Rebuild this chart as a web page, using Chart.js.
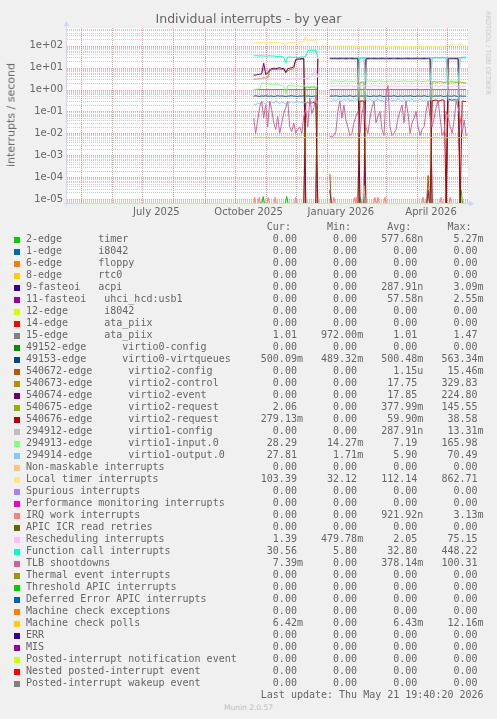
<!DOCTYPE html>
<html>
<head>
<meta charset="utf-8">
<title>Individual interrupts - by year</title>
<script src="https://cdn.jsdelivr.net/npm/chart.js@4.4.1/dist/chart.umd.min.js"></script>
<style>
  html, body { margin: 0; padding: 0; }
  body {
    width: 497px; height: 719px; position: relative; overflow: hidden;
    background: #f0f0f0; color: #666;
    font-family: 'DejaVu Sans', sans-serif;
  }
  #chart { position: absolute; left: 0; top: 0; }
  #title { position: absolute; left: 0; top: 11px; width: 497px; text-align: center; font-size: 12.5px; line-height: 16px; }
  #ylabel { position: absolute; left: 11px; top: 115px; transform: translate(-50%, -50%) rotate(-90deg); font-size: 11px; white-space: nowrap; }
  #watermark { position: absolute; left: 488px; top: 53px; transform: translate(-50%, -50%) rotate(90deg); font-size: 6.5px; color: #c8c8c8; white-space: nowrap; }
  #legend { position: absolute; left: 26px; top: 221px; margin: 0; font: 10px/12px 'DejaVu Sans Mono', monospace; color: #666; }
  .swatch { position: absolute; left: 14px; width: 6px; height: 6px; }
  #munin { position: absolute; left: 0; top: 703px; width: 497px; text-align: center; font-size: 7.5px; color: #c0c0c0; }
</style>
</head>
<body>
<canvas id="chart" width="497" height="230"></canvas>
<div id="title">Individual interrupts - by year</div>
<div id="ylabel">interrupts / second</div>
<div id="watermark">RRDTOOL / TOBI OETIKER</div>
<pre id="legend"></pre>
<div id="munin">Munin 2.0.57</div>

<script>
// ---- axes (x values are day numbers counted from 1 Jan 2025) ----
const xMin = 105.8;   // 16 Apr 2025
const xMax = 505.8;   // 21 May 2026
const monthStarts = [120, 151, 181, 212, 243, 273, 304, 334, 365, 396, 424, 455, 485];
const monthLabels = ['', '', 'July 2025', '', '', 'October 2025', '', '', 'January 2026', '', '', 'April 2026', ''];
const yMin = 6.6e-6;
const yMax = 646;
const decades = [1e-5, 1e-4, 1e-3, 1e-2, 1e-1, 1, 10, 100];
const decadeLabels = ['1e-05', '1e-04', '1e-03', '1e-02', '1e-01', '1e+00', '1e+01', '1e+02'];
const minorSteps = [2, 3, 4, 5, 6, 7, 8, 9];

// ---- legend ----
const legendLabels = [
  '2-edge      timer', '1-edge      i8042', '6-edge      floppy', '8-edge      rtc0',
  '9-fasteoi   acpi', '11-fasteoi   uhci_hcd:usb1', '12-edge      i8042', '14-edge      ata_piix',
  '15-edge      ata_piix', '49152-edge      virtio0-config', '49153-edge      virtio0-virtqueues',
  '540672-edge      virtio2-config', '540673-edge      virtio2-control', '540674-edge      virtio2-event',
  '540675-edge      virtio2-request', '540676-edge      virtio2-request', '294912-edge      virtio1-config',
  '294913-edge      virtio1-input.0', '294914-edge      virtio1-output.0',
  'Non-maskable interrupts', 'Local timer interrupts', 'Spurious interrupts',
  'Performance monitoring interrupts', 'IRQ work interrupts', 'APIC ICR read retries',
  'Rescheduling interrupts', 'Function call interrupts', 'TLB shootdowns',
  'Thermal event interrupts', 'Threshold APIC interrupts', 'Deferred Error APIC interrupts',
  'Machine check exceptions', 'Machine check polls', 'ERR', 'MIS',
  'Posted-interrupt notification event', 'Nested posted-interrupt event', 'Posted-interrupt wakeup event'
];
const seriesColors = [
  '#00CC00', '#0066B3', '#FF8000', '#FFCC00', '#330099', '#990099', '#CCFF00', '#FF0000', '#808080',
  '#008F00', '#00487D', '#B35A00', '#B38F00', '#6B006B', '#8FB300', '#B30000', '#BEBEBE', '#80FF80',
  '#80C9FF', '#FFC080', '#FFE680', '#AA80FF', '#EE00CC', '#FF8080', '#666600', '#FFBFFF', '#00FFCC',
  '#CC6699', '#999900', '#00CC00', '#0066B3', '#FF8000', '#FFCC00', '#330099', '#990099', '#CCFF00',
  '#FF0000', '#808080'
];
const legendCur = ['0.00','0.00','0.00','0.00','0.00','0.00','0.00','0.00','1.01','0.00','500.09m','0.00','0.00','0.00','2.06','279.13m','0.00','28.29','27.81',
  '0.00','103.39','0.00','0.00','0.00','0.00','1.39','30.56','7.39m','0.00','0.00','0.00','0.00','6.42m','0.00','0.00','0.00','0.00','0.00'];
const legendMin = ['0.00','0.00','0.00','0.00','0.00','0.00','0.00','0.00','972.00m','0.00','489.32m','0.00','0.00','0.00','0.00','0.00','0.00','14.27m','1.71m',
  '0.00','32.12','0.00','0.00','0.00','0.00','479.78m','5.80','0.00','0.00','0.00','0.00','0.00','0.00','0.00','0.00','0.00','0.00','0.00'];
const legendAvg = ['577.68n','0.00','0.00','0.00','287.91n','57.58n','0.00','0.00','1.01','0.00','500.48m','1.15u','17.75','17.85','377.99m','59.90m','287.91n','7.19','5.90',
  '0.00','112.14','0.00','0.00','921.92n','0.00','2.05','32.80','378.14m','0.00','0.00','0.00','0.00','6.43m','0.00','0.00','0.00','0.00','0.00'];
const legendMax = ['5.27m','0.00','0.00','0.00','3.09m','2.55m','0.00','0.00','1.47','0.00','563.34m','15.46m','329.83','224.80','145.55','38.58','13.31m','165.98','70.49',
  '0.00','862.71','0.00','0.00','3.13m','0.00','75.15','448.22','100.31','0.00','0.00','0.00','0.00','12.16m','0.00','0.00','0.00','0.00','0.00'];
const lastUpdate = 'Thu May 21 19:40:20 2026';

// ---- daily samples (gap at 358 = no data over new year) ----
const days = [
  292, 294, 296, 298, 300, 302, 304, 306, 308, 310,
  312, 314, 316, 318, 320, 322, 324, 326, 328, 330,
  332, 334, 336, 338, 340, 342, 344, 346, 348, 350,
  352, 354, 356,
  358,
  368, 370, 372, 374, 376, 378, 380, 382, 384, 386,
  388, 390, 392, 394, 396, 398, 400, 402, 404, 406,
  408, 410, 412, 414, 416, 418, 420, 422, 424, 426,
  428, 430, 432, 434, 436, 438, 440, 442, 444, 446,
  448, 450, 452, 454, 456, 458, 460, 462, 464, 466,
  468, 470, 472, 474, 476, 478, 480, 482, 484, 486,
  488, 490, 492, 494, 496, 498, 500, 502, 504
];

const localTimer = [
  136, 138, 137, 139, 138, 140, 139, 138, 139, 141,
  138, 140, 142, 140, 134, 125, 95, 134, 138, 140,
  142, 144, 146, 148, 150, 155, 290, 165, 170, 172,
  175, 170, 105,
  null,
  95, 94, 95, 96, 94, 95, 96, 95, 94, 95,
  96, 95, 94, 93, 95, 92, 90, 91, 93, 95,
  94, 95, 96, 95, 94, 95, 94, 93, 92, 93,
  94, 92, 91, 92, 93, 92, 91, 90, 89, 88,
  90, 91, 92, 90, 89, 88, 90, 91, 92, 93,
  92, 90, 91, 92, 93, 92, 94, 96, 98, 104,
  108, 106, 110, 112, 108, 110, 112, 110, 103.4
];
const functionCall = [
  34, 35, 35, 34, 35, 34, 33, 34, 35, 34,
  34, 33, 32, 33, 32, 30, 16, 31, 30, 30,
  29, 30, 29, 30, 31, 31, 33, 60, 62, 63,
  62, 63, 30,
  null,
  28, 28, 29, 28, 28, 29, 28, 28, 29, 28,
  28, 29, 28, 28, 28, 27, 28, 28, 28, 29,
  28, 28, 29, 28, 28, 28, 29, 28, 28, 28,
  29, 28, 28, 28, 29, 28, 28, 28, 28, 29,
  28, 28, 28, 29, 28, 28, 28, 29, 28, 28,
  28, 29, 29, 30, 29, 29, 30, 29, 29, 28,
  28, 29, 28, 29, 28, 29, 30, 30, 30.6
];
const virtio2Event = [
  4.5, 4.6, 4.8, 5.0, 5.2, 16, 5.0, 5.5, 8.0, 9.0,
  9.5, 9.0, 9.5, 10, 9.0, 9.5, 6.0, 9.0, 9.5, 10,
  11, 24, 25, 25, 26, 26, 0, 0, 0, 0,
  0, 0, 26,
  null,
  26, 26, 27, 26, 26, 26, 27, 26, 26, 26,
  27, 26, 26, 26, 26, 0, 0, 0, 26, 26,
  26, 27, 26, 26, 26, 26, 27, 26, 26, 26,
  26, 26, 27, 26, 26, 26, 26, 26, 27, 26,
  26, 26, 26, 27, 26, 26, 26, 26, 26, 27,
  26, 0, 0, 0, 0, 0, 0, 0, 0, 26,
  26, 27, 26, 26, 26, 0, 0, 0, 0
];
const virtio2Control = [
  3.0, 3.0, 3.1, 3.1, 3.2, 3.5, 3.3, 3.5, 7.0, 8.0,
  8.5, 8.0, 8.5, 8.5, 8.0, 8.5, 6.0, 7.0, 8.0, 8.5,
  9.0, 22, 23, 24, 24, 25, 0, 0, 0, 0,
  0, 0, 25,
  null,
  25, 25, 25, 25, 25, 25, 25, 25, 25, 25,
  25, 25, 25, 25, 25, 0, 0, 0, 25, 25,
  25, 25, 25, 25, 25, 25, 25, 25, 25, 25,
  25, 25, 25, 25, 25, 25, 25, 25, 25, 25,
  25, 25, 25, 25, 25, 25, 25, 25, 25, 25,
  25, 0, 0, 0, 0, 0, 0, 0, 0, 25,
  25, 25, 25, 25, 25, 0, 0, 0, 0
];
const virtio2RequestA = [
  0, 0, 0, 0, 0, 0, 0, 0, 0, 0,
  0, 0, 0, 0, 0, 0, 0, 0, 0, 0,
  0, 0, 0, 0, 0, 0, 1.3, 1.3, 1.2, 1.3,
  1.3, 1.2, 0,
  null,
  0, 0, 0, 0, 0, 0, 0, 0, 0, 0,
  0, 0, 0, 0, 0, 2.1, 2.2, 2.2, 0, 0,
  0, 0, 0, 0, 0, 0, 0, 0, 0, 0,
  0, 0, 0, 0, 0, 0, 0, 0, 0, 0,
  0, 0, 0, 0, 0, 0, 0, 0, 0, 0,
  0, 2.2, 2.3, 2.2, 2.2, 2.3, 2.2, 2.1, 2.2, 2.2,
  2.3, 2.2, 2.2, 2.1, 2.2, 2.2, 2.1, 2.0, 2.06
];
const virtio2RequestB = [
  0, 0, 0, 0, 0, 0, 0, 0, 0, 0,
  0, 0, 0, 0, 0, 0, 0, 0, 0, 0,
  0, 0, 0, 0, 0, 0, 0.25, 0.26, 0.24, 0.25,
  0.26, 0.25, 0,
  null,
  0, 0, 0, 0, 0, 0, 0, 0, 0, 0,
  0, 0, 0, 0, 0, 0.3, 0.3, 0.3, 0, 0,
  0, 0, 0, 0, 0, 0, 0, 0, 0, 0,
  0, 0, 0, 0, 0, 0, 0, 0, 0, 0,
  0, 0, 0, 0, 0, 0, 0, 0, 0, 0,
  0, 0.3, 0.32, 0.33, 0.3, 0.31, 0.34, 0.32, 0, 0.33,
  0.35, 0.32, 0.34, 0.33, 0.35, 0, 0.3, 0.29, 0.279
];
const virtio1Input = [
  1.0, 1.0, 1.05, 1.1, 1.8, 2.0, 1.9, 1.8, 1.7, 1.7,
  1.6, 1.7, 1.6, 1.6, 1.5, 1.4, 0.6, 1.5, 1.6, 1.5,
  1.5, 1.4, 1.5, 1.4, 1.4, 1.5, 1.4, 1.3, 1.4, 1.3,
  1.4, 1.3, 1.5,
  null,
  2.3, 2.4, 2.4, 2.5, 2.4, 2.4, 2.3, 2.4, 2.5, 2.4,
  2.4, 2.3, 2.4, 2.4, 2.5, 28, 28, 29, 2.4, 2.4,
  2.5, 2.4, 2.3, 2.4, 2.4, 2.5, 2.4, 2.4, 2.3, 2.4,
  2.4, 2.5, 2.4, 2.4, 2.3, 2.4, 2.4, 2.5, 2.4, 2.4,
  2.3, 2.4, 2.4, 2.5, 2.4, 2.4, 2.3, 2.4, 2.4, 2.5,
  2.4, 28, 28, 29, 28, 28, 28, 29, 28, 2.4,
  2.4, 2.5, 2.4, 2.4, 2.3, 28, 28, 29, 28.3
];
const virtio1Output = [
  0.22, 0.2, 0.24, 0.23, 0.26, 0.25, 0.22, 0.28, 0.25, 0.27,
  0.24, 0.3, 0.26, 0.23, 0.28, 0.25, 0.22, 0.27, 0.25, 0.29,
  0.24, 0.26, 0.3, 0.25, 0.27, 0.24, 0.26, 0.25, 0.28, 0.24,
  0.3, 0.26, 0.25,
  null,
  0.3, 0.28, 0.35, 0.3, 0.38, 0.32, 0.29, 0.36, 0.31, 0.4,
  0.3, 0.33, 0.28, 0.35, 0.31, 27, 28, 28, 0.32, 0.3,
  0.37, 0.29, 0.34, 0.31, 0.38, 0.3, 0.33, 0.28, 0.35, 0.31,
  0.36, 0.29, 0.33, 0.3, 0.38, 0.32, 0.29, 0.35, 0.31, 0.34,
  0.28, 0.36, 0.3, 0.33, 0.29, 0.37, 0.31, 0.3, 0.34, 0.29,
  0.32, 28, 27, 28, 28, 27, 28, 28, 27, 0.33,
  0.3, 0.36, 0.29, 0.34, 0.31, 27, 28, 28, 27.8
];
const rescheduling = [
  3.0, 3.1, 3.0, 3.1, 3.0, 3.2, 3.0, 3.1, 3.0, 3.1,
  3.0, 3.1, 3.0, 3.1, 3.0, 3.2, 2.8, 3.0, 3.1, 3.0,
  3.1, 3.2, 3.1, 3.2, 3.1, 3.2, 3.3, 3.2, 3.4, 4.0,
  7.0, 8.0, 3.5,
  null,
  1.5, 1.4, 1.5, 1.4, 1.5, 1.4, 1.4, 1.5, 1.4, 1.5,
  1.4, 1.5, 1.4, 1.4, 1.5, 1.4, 1.5, 1.4, 1.5, 1.4,
  1.4, 1.5, 1.4, 1.5, 1.4, 1.4, 1.5, 1.4, 1.4, 1.5,
  1.4, 1.4, 1.5, 1.4, 1.4, 1.5, 1.4, 1.4, 1.5, 1.4,
  1.4, 1.5, 1.4, 1.4, 1.5, 1.4, 1.4, 1.5, 1.4, 1.4,
  1.5, 1.4, 1.4, 1.5, 1.4, 1.4, 1.5, 1.4, 1.4, 1.5,
  1.4, 1.4, 1.5, 1.4, 1.4, 1.5, 1.4, 1.4, 1.39
];
const virtqueues = [
  0.5, 0.52, 0.5, 0.49, 0.51, 0.5, 0.52, 0.5, 0.5, 0.51,
  0.49, 0.5, 0.52, 0.5, 0.51, 0.5, 0.49, 0.5, 0.51, 0.52,
  0.5, 0.5, 0.49, 0.51, 0.5, 0.52, 0.5, 0.51, 0.5, 0.49,
  0.5, 0.51, 0.5,
  null,
  0.5, 0.51, 0.5, 0.52, 0.5, 0.49, 0.5, 0.51, 0.5, 0.5,
  0.52, 0.5, 0.49, 0.51, 0.5, 0.5, 0.51, 0.5, 0.52, 0.5,
  0.49, 0.5, 0.51, 0.5, 0.5, 0.52, 0.5, 0.49, 0.5, 0.51,
  0.5, 0.5, 0.52, 0.5, 0.49, 0.51, 0.5, 0.5, 0.51, 0.5,
  0.52, 0.5, 0.49, 0.5, 0.51, 0.5, 0.5, 0.52, 0.5, 0.49,
  0.51, 0.5, 0.5, 0.51, 0.5, 0.52, 0.5, 0.49, 0.5, 0.51,
  0.5, 0.5, 0.52, 0.5, 0.49, 0.51, 0.5, 0.5, 0.5
];
const tlbShootdowns = [
  0.05, 0.01, 0.04, 0.15, 0.3, 0.05, 0.2, 0.02, 0.3, 0.12,
  0.03, 0.015, 0.06, 0.01, 0.03, 0.08, 0.15, 0.3, 0.02, 0.012,
  0.03, 0.01, 0.015, 0.02, 0.01, 0.06, 0.12, 0.02, 0.4, 0.08,
  0.15, 0.5, 0.2,
  null,
  0.007, 0.007, 0.008, 0.012, 0.1, 0.3, 0.05, 0.2, 0.04, 0.02,
  0.008, 0.01, 0.03, 0.06, 0.1, 0.01, 0.08, 0.2, 0.02, 0.01,
  0.05, 0.15, 0.3, 0.03, 0.06, 0.1, 0.015, 0.008, 0.6, 1.5,
  0.02, 0.008, 0.01, 0.015, 0.05, 0.1, 0.2, 0.03, 0.3, 0.08,
  0.01, 0.03, 0.05, 0.1, 0.02, 0.008, 0.015, 0.02, 0.1, 0.3,
  0.05, 0.02, 0.05, 0.15, 0.3, 0.05, 0.008, 0.012, 0.1, 0.05,
  0.02, 0.01, 0.04, 0.3, 0.15, 0.05, 0.01, 0.04, 0.0074
];

// ---- sparse series (flat lines and small spikes) ----
const ataDays = [292, 356, 358, 368, 504];
const ataValues = [1.01, 1.01, null, 1.01, 1.01];
const mcpDays = [292, 356, 358, 368, 504];
const mcpValues = [0.0064, 0.0064, null, 0.0064, 0.0064];
const timerDays = [292, 300, 301.5, 303, 323.5, 325, 326.5, 356, 358, 368, 396.5, 398, 399.5, 497.5, 499, 500.5, 504];
const timerValues = [0, 0, 1.3e-5, 0, 0, 1.3e-5, 0, 0, null, 0, 0, 1.3e-5, 0, 0, 2.5e-5, 0, 0];
const acpiDays = [368, 369.5, 464.5, 466, 467.5];
const acpiValues = [2.5e-5, 0, 0, 2.5e-5, 0];
const virtio2ConfigDays = [368, 369.5, 464.5, 466, 467.5];
const virtio2ConfigValues = [1.4e-4, 0, 0, 1.2e-4, 0];
const virtio1ConfigDays = [400.5, 402, 403.5];
const virtio1ConfigValues = [0, 4e-5, 0];
const irqWorkDays = [
  292, 293, 294, 296, 297.5, 299, 305, 306.5, 308, 312, 313.5, 315, 332.5, 334, 335.5, 356, 358,
  368, 370.5, 372, 373.5, 391.5, 393, 394, 395, 396.5, 411.5, 413, 414.5, 416, 417.5, 421.5, 423, 424.5,
  459.5, 461, 462.5, 477.5, 479, 480.5, 486.5, 488, 489.5, 504
];
const irqWorkValues = [
  0, 1.2e-5, 0, 0, 1.2e-5, 0, 0, 1.2e-5, 0, 0, 1.2e-5, 0, 0, 1.2e-5, 0, 0, null,
  0, 0, 1.2e-5, 0, 0, 1.2e-5, 0, 1.2e-5, 0, 0, 1.2e-5, 0, 1.2e-5, 0, 0, 1.2e-5, 0,
  0, 1.2e-5, 0, 0, 1.2e-5, 0, 0, 1.2e-5, 0, 0
];

// legend index -> data drawn for it
const plotted = [
  [0, timerDays, timerValues],
  [4, acpiDays, acpiValues],
  [8, ataDays, ataValues],
  [10, days, virtqueues],
  [11, virtio2ConfigDays, virtio2ConfigValues],
  [12, days, virtio2Control],
  [13, days, virtio2Event],
  [14, days, virtio2RequestA],
  [15, days, virtio2RequestB],
  [16, virtio1ConfigDays, virtio1ConfigValues],
  [17, days, virtio1Input],
  [18, days, virtio1Output],
  [20, days, localTimer],
  [23, irqWorkDays, irqWorkValues],
  [25, days, rescheduling],
  [26, days, functionCall],
  [27, days, tlbShootdowns],
  [32, mcpDays, mcpValues]
];

const gridColor = 'rgba(143,143,143,0.45)';
const mgridColor = 'rgba(222,79,79,0.55)';
const axisColor = '#CFD6F8';

// ---- legend text ----
function field(s) {
  const unit = /[a-z]$/i.test(s) ? s.slice(-1) : ' ';
  const num = unit === ' ' ? s : s.slice(0, -1);
  return num.padStart(6) + unit;
}
const lines = [' '.repeat(40) + 'Cur:' + ' '.repeat(6) + 'Min:' + ' '.repeat(6) + 'Avg:' + ' '.repeat(6) + 'Max:'];
legendLabels.forEach((name, i) => {
  lines.push(name.padEnd(39) + field(legendCur[i]) + '   ' + field(legendMin[i]) + '   ' +
             field(legendAvg[i]) + '   ' + field(legendMax[i]));
  const sw = document.createElement('div');
  sw.className = 'swatch';
  sw.style.top = (221 + 12 * (i + 1) + 4) + 'px';
  sw.style.background = seriesColors[i];
  document.body.appendChild(sw);
});
lines.push(' '.repeat(39) + 'Last update: ' + lastUpdate);
document.getElementById('legend').textContent = lines.join('\n');

// ---- chart ----
const yTicks = [];
[1e-6].concat(decades).forEach(d => {
  [1].concat(minorSteps).forEach(m => {
    const v = m === 1 ? d : m * d;
    if (v >= yMin && v <= yMax) yTicks.push(v);
  });
});

// rrdtool style: white canvas, dotted grid, pale axis with arrows
const frame = {
  id: 'frame',
  beforeDraw(chart) {
    const { ctx, chartArea: a } = chart;
    ctx.save();
    ctx.fillStyle = '#ffffff';
    ctx.fillRect(a.left, a.top, a.right - a.left, a.bottom - a.top);
    ctx.restore();
  },
  beforeDatasetsDraw(chart) {
    const { ctx, chartArea: a, scales } = chart;
    ctx.save();
    ctx.lineWidth = 1;
    ctx.setLineDash([1, 1]);
    yTicks.forEach(v => {
      const py = Math.round(scales.y.getPixelForValue(v)) + 0.5;
      ctx.strokeStyle = decades.includes(v) ? mgridColor : gridColor;
      ctx.beginPath();
      ctx.moveTo(a.left, py);
      ctx.lineTo(a.right, py);
      ctx.stroke();
    });
    ctx.strokeStyle = mgridColor;
    monthStarts.forEach(v => {
      const px = Math.round(scales.x.getPixelForValue(v)) + 0.5;
      ctx.beginPath();
      ctx.moveTo(px, a.top);
      ctx.lineTo(px, a.bottom);
      ctx.stroke();
    });
    ctx.restore();
  },
  afterDatasetsDraw(chart) {
    const { ctx, chartArea: a } = chart;
    ctx.save();
    ctx.strokeStyle = axisColor;
    ctx.fillStyle = axisColor;
    ctx.lineWidth = 1;
    ctx.beginPath();
    ctx.moveTo(a.left - 3, a.bottom + 0.5);
    ctx.lineTo(a.right + 1, a.bottom + 0.5);
    ctx.moveTo(a.left - 0.5, a.bottom + 3);
    ctx.lineTo(a.left - 0.5, a.top - 2);
    ctx.stroke();
    ctx.beginPath();
    ctx.moveTo(a.right + 6, a.bottom + 0.5);
    ctx.lineTo(a.right + 1, a.bottom - 2.5);
    ctx.lineTo(a.right + 1, a.bottom + 3.5);
    ctx.closePath();
    ctx.moveTo(a.left - 0.5, a.top - 7);
    ctx.lineTo(a.left - 3.5, a.top - 2);
    ctx.lineTo(a.left + 2.5, a.top - 2);
    ctx.closePath();
    ctx.fill();
    ctx.restore();
  }
};

// zero cannot sit on a log axis: like rrdtool, draw it just under the axis floor
const zeroLevel = yMin / 1.15;
const datasets = plotted.map(([k, xs, ys]) => ({
  label: legendLabels[k],
  data: xs.map((x, i) => ({ x: x, y: ys[i] === 0 ? zeroLevel : ys[i] })),
  borderColor: seriesColors[k],
  borderWidth: 1,
  pointRadius: 0,
  fill: false,
  spanGaps: false,
  order: -k
}));

new Chart(document.getElementById('chart'), {
  type: 'line',
  data: { datasets },
  options: {
    responsive: false,
    animation: false,
    devicePixelRatio: 1,
    layout: { padding: { left: 0, top: 28, right: 29, bottom: 0 } },
    plugins: { legend: { display: false }, tooltip: { enabled: false } },
    elements: { line: { tension: 0 }, point: { radius: 0 } },
    scales: {
      x: {
        type: 'linear',
        min: xMin,
        max: xMax,
        afterBuildTicks: s => { s.ticks = monthStarts.map(v => ({ value: v })); },
        afterFit: s => { s.height = 27; },
        grid: { display: false, drawTicks: false },
        border: { display: false },
        ticks: {
          autoSkip: false, maxRotation: 0, padding: 3, labelOffset: 14,
          color: '#666', font: { family: 'DejaVu Sans', size: 10 },
          callback: (v, i) => monthLabels[i]
        }
      },
      y: {
        type: 'logarithmic',
        min: yMin,
        max: yMax,
        afterBuildTicks: s => { s.ticks = yTicks.map(v => ({ value: v })); },
        afterFit: s => { s.width = 67; },
        grid: { display: false, drawTicks: false },
        border: { display: false },
        ticks: {
          autoSkip: false, padding: 4,
          color: '#666', font: { family: 'DejaVu Sans', size: 10 },
          callback: v => {
            const k = decades.indexOf(v);
            return k >= 0 ? decadeLabels[k] : '';
          }
        }
      }
    }
  },
  plugins: [frame]
});
</script>
</body>
</html>
